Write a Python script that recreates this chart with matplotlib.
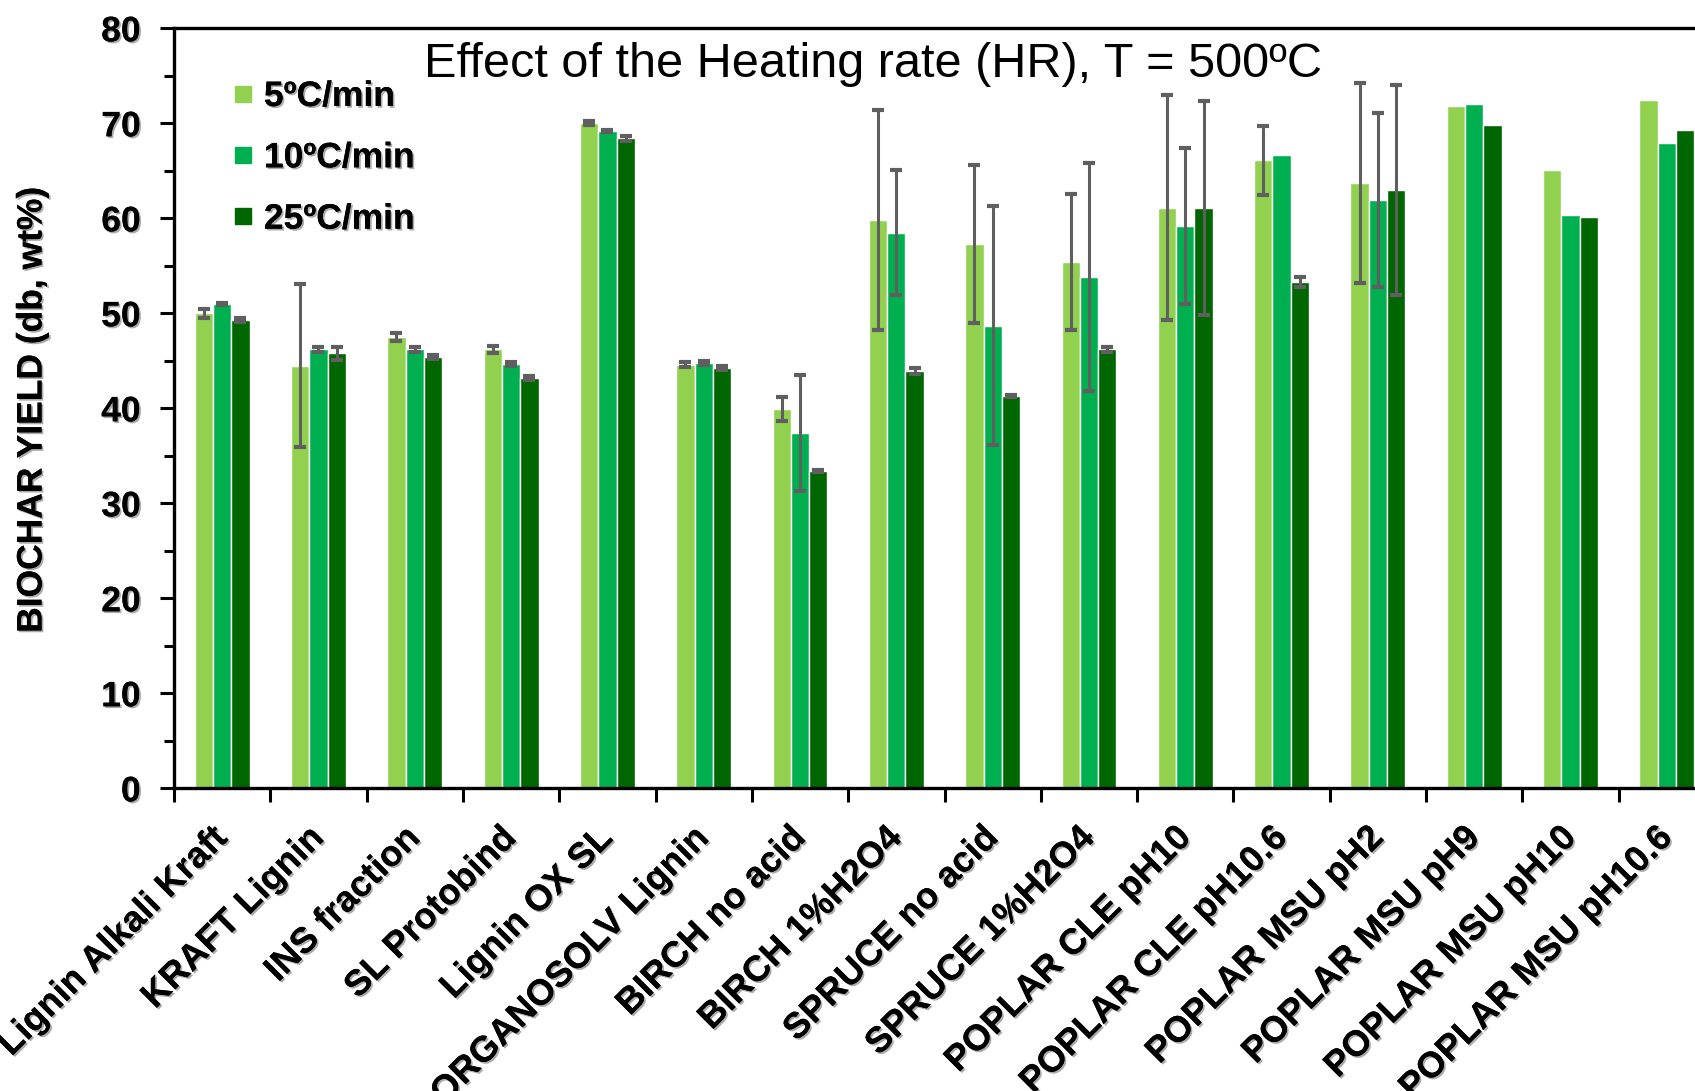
import matplotlib
matplotlib.use("Agg")
import matplotlib.pyplot as plt
import matplotlib.patheffects as pe
import numpy as np
from matplotlib.lines import Line2D

categories = ["Lignin Alkali Kraft", "KRAFT Lignin", "INS fraction", "SL Protobind",
              "Lignin OX SL", "ORGANOSOLV Lignin", "BIRCH no acid", "BIRCH 1%H2O4",
              "SPRUCE no acid", "SPRUCE 1%H2O4", "POPLAR CLE pH10", "POPLAR CLE pH10.6",
              "POPLAR MSU pH2", "POPLAR MSU pH9", "POPLAR MSU pH10", "POPLAR MSU pH10.6"]
series_labels = ["5ºC/min", "10ºC/min", "25ºC/min"]

hr5 = [50.0, 44.5, 47.5, 46.2, 70.0, 44.6, 39.9, 59.8, 57.3, 55.4, 61.1, 66.1, 63.7, 71.8, 65.1, 72.5]
hr10 = [51.0, 46.2, 46.2, 44.7, 69.2, 44.8, 37.4, 58.5, 48.7, 53.8, 59.2, 66.7, 61.9, 72.0, 60.4, 67.9]
hr25 = [49.3, 45.8, 45.4, 43.2, 68.4, 44.2, 33.4, 43.9, 41.3, 46.2, 61.1, 53.3, 63.0, 69.8, 60.1, 69.3]

err5 = [0.45, 8.6, 0.4, 0.4, 0.2, 0.25, 1.25, 11.6, 8.3, 7.2, 11.85, 3.6, 10.55, 0, 0, 0]
err10 = [0.1, 0.3, 0.3, 0.2, 0.1, 0.2, 6.15, 6.6, 12.6, 12.0, 8.25, 0, 9.15, 0, 0, 0]
err25 = [0.2, 0.7, 0.2, 0.2, 0.3, 0.2, 0.1, 0.3, 0.15, 0.3, 11.25, 0.5, 11.05, 0, 0, 0]

colors = ["#92D050", "#00B050", "#006600"]

plt.rcParams["font.family"] = ["Liberation Sans", "DejaVu Sans"]
shadow = [pe.withSimplePatchShadow(offset=(1.3, -1.3), shadow_rgbFace="0.45", alpha=0.6), pe.Normal()]

W, H = 1695, 1091
fig = plt.figure(figsize=(W / 100, H / 100), dpi=100)
ax = fig.add_axes([174 / W, 1 - 788.3 / H, 1541 / W, 760 / H])

x = np.arange(len(categories))
width = 0.19
offsets = [-width, 0, width]
for vals, errs, off, col in zip([hr5, hr10, hr25], [err5, err10, err25], offsets, colors):
    ax.bar(x + off, vals, width, color=col, edgecolor="white", linewidth=1, zorder=2)
    errs = np.array(errs)
    m = errs > 0
    ax.errorbar((x + off)[m], np.array(vals)[m], yerr=errs[m], fmt="none",
                ecolor="#5f5f5f", elinewidth=2.2, capsize=4, capthick=3, zorder=3)

ax.set_xlim(-0.5, len(categories) - 0.5)
ax.set_ylim(0, 80)
ax.set_yticks(np.arange(0, 81, 10))
ax.set_yticks(np.arange(5, 80, 10), minor=True)
ax.set_yticklabels([str(v) for v in range(0, 81, 10)], fontsize=25.5, fontweight="bold")
ax.tick_params(axis="y", which="major", direction="out", length=10, width=2.2, pad=14)
ax.tick_params(axis="y", which="minor", direction="out", length=7, width=2.2)
for t in ax.get_yticklabels():
    t.set_path_effects(shadow)

ax.set_xticks(np.arange(-0.5, len(categories), 1))
ax.set_xticklabels([])
ax.set_xticks(x, minor=True)
ax.set_xticklabels(categories, minor=True, rotation=45, ha="right", va="center",
                   rotation_mode="anchor", fontsize=26, fontweight="bold")
ax.tick_params(axis="x", which="major", direction="out", length=10, width=2.2)
ax.tick_params(axis="x", which="minor", length=0, pad=32)
for t in ax.get_xticklabels(minor=True):
    t.set_path_effects(shadow)

for s in ["left", "bottom", "top", "right"]:
    ax.spines[s].set_linewidth(2.4)

fig.text(32 / W, 1 - 410 / H, "BIOCHAR YIELD (db, wt%)", rotation=90, ha="center", va="center",
         fontsize=25.5, fontweight="bold", path_effects=shadow)
fig.text(873 / W, 1 - 77 / H, "Effect of the Heating rate (HR), T = 500ºC", ha="center",
         va="baseline", fontsize=35)

handles = [Line2D([], [], marker="s", ls="", color=c, markersize=12) for c in colors]
leg = fig.legend(handles, series_labels, loc="upper left", bbox_to_anchor=(232 / W, 1 - 80 / H),
                 frameon=False, prop={"size": 25.5, "weight": "bold"}, handlelength=0.6,
                 handletextpad=0.3, labelspacing=0.8, borderaxespad=0, borderpad=0)
for t in leg.get_texts():
    t.set_path_effects(shadow)

fig.savefig("out.png", dpi=100)
